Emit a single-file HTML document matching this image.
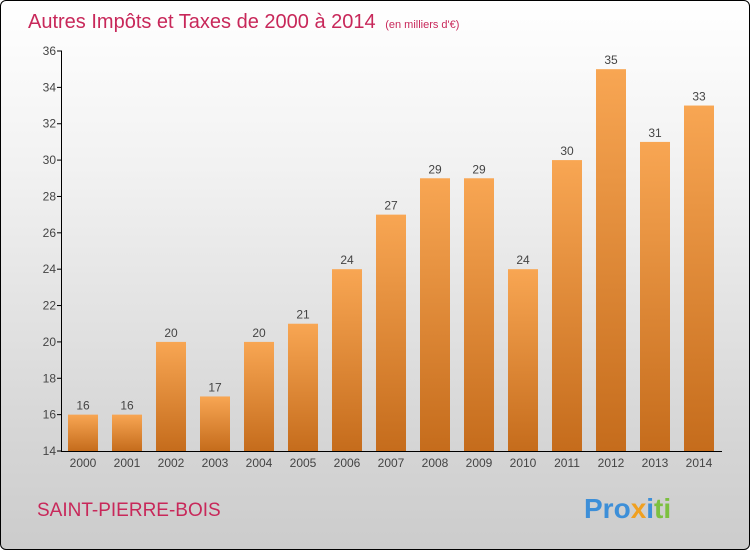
<!DOCTYPE html>
<html><head><meta charset="utf-8"><style>
body{margin:0;width:750px;height:550px;overflow:hidden;font-family:"Liberation Sans",sans-serif}
#wrap{position:absolute;left:0;top:0;width:748px;height:548px;border:1px solid #000;border-radius:6px;background:linear-gradient(#ffffff,#f2f2f2 30%,#d8d8d8 75%,#cccccc);overflow:hidden}
</style></head><body>
<div id="wrap">
<svg width="750" height="550">
<defs><linearGradient id="bg" x1="0" y1="0" x2="0" y2="1"><stop offset="0" stop-color="#f8a653"/><stop offset="1" stop-color="#c56c1c"/></linearGradient></defs>
<text x="27" y="27" font-size="20" fill="#c8285a">Autres Impôts et Taxes de 2000 à 2014 <tspan font-size="11" dx="4">(en milliers d'€)</tspan></text>
<g id="plot"></g>
<text x="36" y="515" font-size="19" fill="#c8285a">SAINT-PIERRE-BOIS</text>
<text x="583" y="517" font-size="28" font-weight="bold"><tspan fill="#3d8fd8">Pro</tspan><tspan fill="#f0a020">x</tspan><tspan fill="#3d8fd8">i</tspan><tspan fill="#7cc040">ti</tspan></text>
</svg></div>
<script>
const years=["2000","2001","2002","2003","2004","2005","2006","2007","2008","2009","2010","2011","2012","2013","2014"];
const values=[16,16,20,17,20,21,24,27,29,29,24,30,35,31,33];
const yTicks=[14,16,18,20,22,24,26,28,30,32,34,36];
const NS="http://www.w3.org/2000/svg",g=document.getElementById('plot');
const y=v=>450-(v-14)*400/22, x=i=>82+i*44;
function mk(t,a){const e=document.createElementNS(NS,t);for(const k in a)e.setAttribute(k,a[k]);g.appendChild(e);return e;}
yTicks.forEach(t=>{
 const l=mk('line',{x1:56,x2:61,y1:y(t),y2:y(t),stroke:'#000'});
 
 
 const s=mk('text',{x:55,y:y(t)+4,'text-anchor':'end','font-size':12,fill:'#444'});s.textContent=t;
 
 
});
values.forEach((v,i)=>{
 const r=mk('rect',{x:x(i)-15,y:y(v),width:30,height:450-y(v),fill:'url(#bg)'});
 
 
 const t=mk('text',{x:x(i),y:y(v)-5,'text-anchor':'middle','font-size':12,fill:'#444'});t.textContent=v;
 
 
 const k=mk('text',{x:x(i),y:466,'text-anchor':'middle','font-size':12,fill:'#444'});k.textContent=years[i];
 
 
});
const ya=mk('line',{x1:60.5,x2:60.5,y1:50,y2:450,stroke:'#000'});


const xa=mk('line',{x1:60,x2:721,y1:450.5,y2:450.5,stroke:'#000'});


</script>
</body></html>
